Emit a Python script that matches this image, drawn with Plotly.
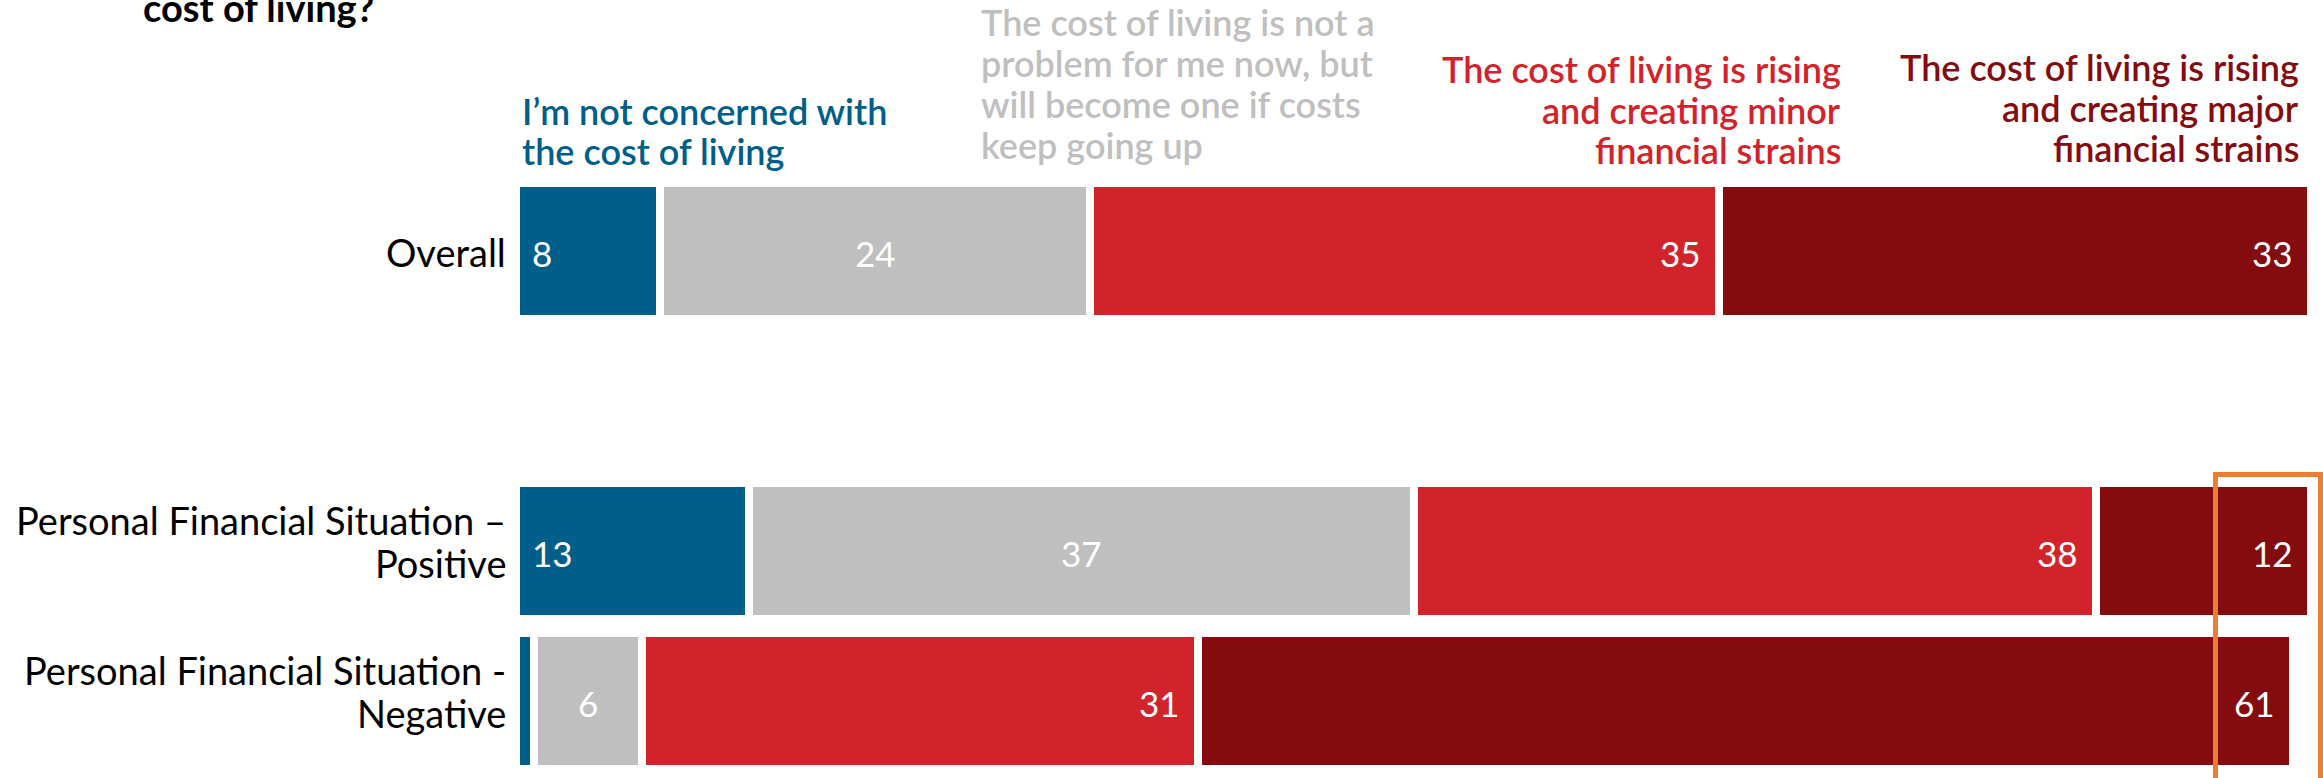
import plotly.graph_objects as go

# ---- data -------------------------------------------------------------
rows = [
    "Overall",
    "Personal Financial Situation –<br>Positive",
    "Personal Financial Situation -<br>Negative",
]
spacer = " "  # empty slot between the overall row and the breakdown rows

series_names = [
    "I’m not concerned with<br>the cost of living",
    "The cost of living is not a<br>problem for me now, but<br>will become one if costs<br>keep going up",
    "The cost of living is rising<br>and creating minor<br>financial strains",
    "The cost of living is rising<br>and creating major<br>financial strains",
]
not_concerned = [8, 13, 1]
future_problem = [24, 37, 6]
minor_strain = [35, 38, 31]
major_strain = [33, 12, 61]

# ---- styling ----------------------------------------------------------
W, H = 2323, 778
ML, MR, MT, MB = 516, 12, 116, 2
PW, PH = W - ML - MR, H - MT - MB

BLUE, GRAY, RED, DARK = "#005E8A", "#BFBFBF", "#D2232A", "#840B0E"
FONT = "Lato"
GAP = 8            # white separator between segments
ASC = 0.387        # baseline offset below the middle of a Lato line box (em)

CAT_SIZE, CAP_SIZE, NUM_SIZE, TITLE_SIZE = 38, 36, 35, 38


def px_x(px):
    return (px - ML) / PW


def px_y(py):
    return 1 - (py - MT) / PH


series = [
    (not_concerned, BLUE, "start"),
    (future_problem, GRAY, "middle"),
    (minor_strain, RED, "end"),
    (major_strain, DARK, "end"),
]
cat_order = [rows[0], spacer, rows[1], rows[2]]

fig = go.Figure()
annotations = []

# stacked segments + value labels
running = [0.0] * len(rows)
for (vals, color, anchor), name in zip(series, series_names):
    fig.add_trace(
        go.Bar(
            y=rows,
            x=vals,
            orientation="h",
            name=name,
            marker=dict(color=color, line=dict(color="white", width=GAP)),
            hoverinfo="skip",
            showlegend=False,
        )
    )
    for i, v in enumerate(vals):
        start = running[i]
        running[i] += v
        if v < 3:
            continue
        if anchor == "start":
            xpos, xa, xs = start, "left", GAP / 2 + 10
        elif anchor == "end":
            xpos, xa, xs = start + v, "right", -(GAP / 2 + 12)
        else:
            xpos, xa, xs = start + v / 2, "center", 0
        annotations.append(
            dict(
                text=str(v),
                xref="x", yref="y",
                x=xpos, y=cat_order.index(rows[i]),
                xanchor=xa, yanchor="middle",
                xshift=xs, yshift=-(15.5 - ASC * NUM_SIZE),
                showarrow=False,
                font=dict(family=FONT, size=NUM_SIZE, color="white"),
            )
        )

# row labels, one annotation per line for tight leading
for row in rows:
    lines = row.split("<br>")
    idx = cat_order.index(row)
    if len(lines) == 1:
        offsets = [15.5]
    else:
        offsets = [-16.5, 26.5]
    for line, base in zip(lines, offsets):
        annotations.append(
            dict(
                text=line,
                xref="paper", yref="y",
                x=px_x(508), y=idx,
                xanchor="right", yanchor="middle",
                yshift=-(base - ASC * CAT_SIZE),
                showarrow=False,
                font=dict(family=FONT, size=CAT_SIZE, color="black"),
            )
        )

# series captions above the bars (x edge, first baseline, line pitch)
captions = [
    dict(x=520, base=124.5, pitch=40, xanchor="left", color=BLUE),
    dict(x=979, base=36, pitch=41, xanchor="left", color=GRAY),
    dict(x=1843, base=83, pitch=40.5, xanchor="right", color=RED),
    dict(x=2301, base=81, pitch=40.5, xanchor="right", color=DARK),
]
for cap, name in zip(captions, series_names):
    for k, line in enumerate(name.split("<br>")):
        baseline = cap["base"] + k * cap["pitch"]
        annotations.append(
            dict(
                text=line,
                xref="paper", yref="paper",
                x=px_x(cap["x"]), y=px_y(baseline - ASC * CAP_SIZE),
                xanchor=cap["xanchor"], yanchor="middle",
                showarrow=False,
                font=dict(family=FONT, size=CAP_SIZE, color=cap["color"], weight=600),
            )
        )

annotations.append(
    dict(
        text="cost of living?",
        xref="paper", yref="paper",
        x=px_x(141), y=px_y(22 - ASC * TITLE_SIZE),
        xanchor="left", yanchor="middle",
        showarrow=False,
        font=dict(family=FONT, size=TITLE_SIZE, color="black", weight="bold"),
    )
)

fig.update_layout(
    width=W,
    height=H,
    margin=dict(l=ML, r=MR, t=MT, b=MB, pad=0),
    barmode="stack",
    bargap=0.09,
    paper_bgcolor="white",
    plot_bgcolor="white",
    font=dict(family=FONT, color="black"),
    xaxis=dict(visible=False, range=[0, 100], fixedrange=True),
    yaxis=dict(
        categoryorder="array",
        categoryarray=cat_order,
        range=[3.5, -0.9],
        showgrid=False,
        zeroline=False,
        showline=False,
        ticks="",
        showticklabels=False,
    ),
    annotations=annotations,
    shapes=[
        dict(
            type="rect",
            xref="paper", yref="paper",
            x0=px_x(2215.5), x1=px_x(2320.5),
            y0=px_y(474.5), y1=px_y(820),
            line=dict(color="#ED7D31", width=5),
            fillcolor="rgba(0,0,0,0)",
            layer="above",
        )
    ],
)

fig.write_html("out.html")
